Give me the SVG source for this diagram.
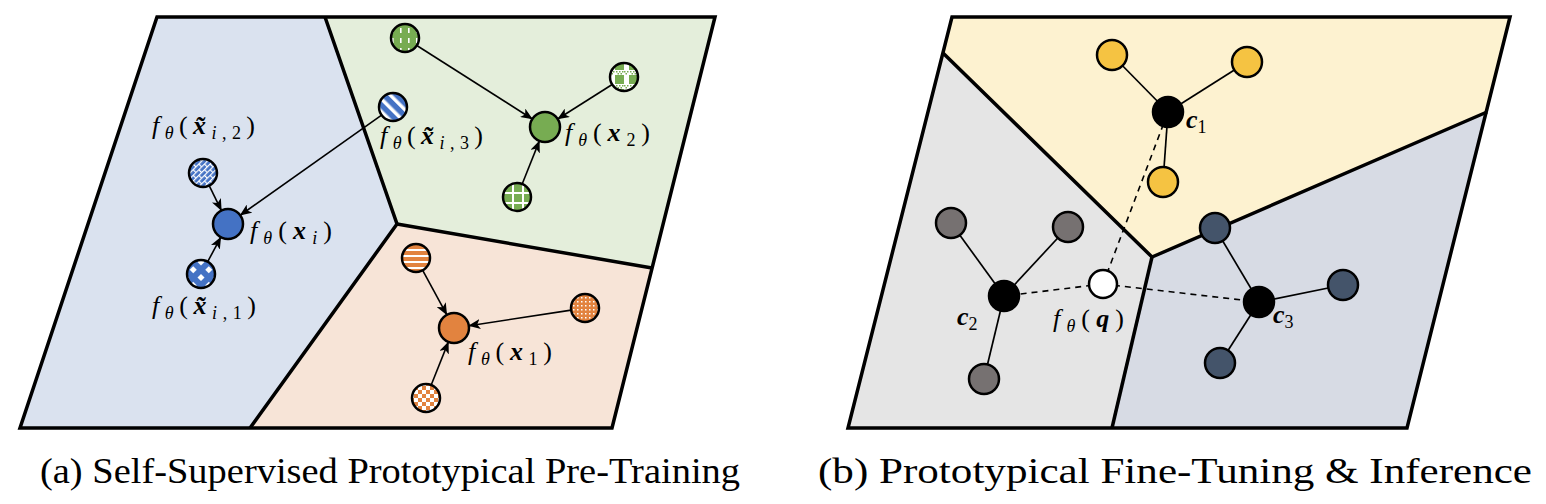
<svg xmlns="http://www.w3.org/2000/svg" width="1546" height="504" viewBox="0 0 1546 504">
<defs>
<style>
.bd{fill:none;stroke:#000;stroke-width:3.5;stroke-linejoin:miter}
.nd{stroke:#000;stroke-width:2.5}
.ar{fill:none;stroke:#000;stroke-width:1.6;marker-end:url(#ah)}
.ln{stroke:#000;stroke-width:1.7}
.ds{stroke:#000;stroke-width:1.6;stroke-dasharray:6 5}
.m{font-family:"Liberation Serif","Times New Roman",serif;font-size:26px;fill:#000}
.it{font-style:italic}
.bi{font-style:italic;font-weight:bold}
.sb{font-size:18px}
.cap{font-family:"Liberation Serif","Times New Roman",serif;font-size:36px;fill:#000}
</style>
<marker id="ah" viewBox="0 0 12 10" refX="11" refY="5" markerWidth="12" markerHeight="10" markerUnits="userSpaceOnUse" orient="auto">
<path d="M0,0 L12,5 L0,10 L3,5 Z" fill="#000"/>
</marker>
<pattern id="pStripe" width="9" height="9" patternUnits="userSpaceOnUse" patternTransform="rotate(-45)">
<rect width="9" height="9" fill="#4472c4"/><rect x="0" width="3.5" height="9" fill="#fff"/>
</pattern>
<pattern id="pBrick" width="8" height="8" patternUnits="userSpaceOnUse" patternTransform="rotate(-45)">
<rect width="8" height="8" fill="#4472c4"/><rect y="0" width="8" height="1.2" fill="#fff"/><rect y="4" width="8" height="1.2" fill="#fff"/><rect x="0" y="0" width="1.2" height="4" fill="#fff"/><rect x="4" y="4" width="1.2" height="4" fill="#fff"/>
</pattern>
<pattern id="pDiamond" width="11" height="11" patternUnits="userSpaceOnUse" patternTransform="translate(201,274) rotate(45)">
<rect width="11" height="11" fill="#4472c4"/><rect x="0" y="0" width="5" height="5" fill="#fff"/>
</pattern>
<pattern id="pVdash" width="8" height="10" patternUnits="userSpaceOnUse" patternTransform="translate(405,38)">
<rect width="8" height="10" fill="#77ac52"/><rect x="3" y="0" width="1.6" height="5" fill="#fff"/>
</pattern>
<pattern id="pPlaid" width="14" height="14" patternUnits="userSpaceOnUse" patternTransform="translate(624,77)">
<rect width="14" height="14" fill="#77ac52"/><rect x="0" y="0" width="5" height="14" fill="#fff"/><rect x="0" y="7" width="14" height="5" fill="#fff"/>
<rect x="0" y="8" width="1.5" height="1.5" fill="#77ac52"/><rect x="3" y="8" width="1.5" height="1.5" fill="#77ac52"/><rect x="1.5" y="10" width="1.5" height="1.5" fill="#77ac52"/>
<rect x="6" y="8" width="1.5" height="1.5" fill="#77ac52"/><rect x="9" y="8" width="1.5" height="1.5" fill="#77ac52"/><rect x="12" y="8" width="1.5" height="1.5" fill="#77ac52"/>
<rect x="7.5" y="10" width="1.5" height="1.5" fill="#77ac52"/><rect x="10.5" y="10" width="1.5" height="1.5" fill="#77ac52"/>
</pattern>
<pattern id="pGrid" width="10" height="10" patternUnits="userSpaceOnUse" patternTransform="translate(512,192)">
<rect width="10" height="10" fill="#77ac52"/><rect x="0" width="2" height="10" fill="#fff"/><rect y="0" width="10" height="2" fill="#fff"/>
</pattern>
<pattern id="pHstripe" width="6" height="6" patternUnits="userSpaceOnUse" patternTransform="translate(416,255)">
<rect width="6" height="6" fill="#e2833f"/><rect y="0" width="6" height="2" fill="#fff"/>
</pattern>
<pattern id="pDots" width="4" height="4" patternUnits="userSpaceOnUse">
<rect width="4" height="4" fill="#e2833f"/><rect x="1" y="1" width="1.5" height="1.5" fill="#fff"/>
</pattern>
<pattern id="pCheck" width="8" height="8" patternUnits="userSpaceOnUse" patternTransform="translate(422,394)">
<rect width="8" height="8" fill="#fff"/><rect x="0" y="0" width="4" height="4" fill="#e2833f"/><rect x="4" y="4" width="4" height="4" fill="#e2833f"/>
</pattern>
</defs>
<rect width="1546" height="504" fill="#fff"/>

<g id="panel-a-regions">
<polygon points="157,17 325,17 397,224 250,428 20,428" fill="#dae2ef"/>
<polygon points="325,17 715,17 652,268 397,224" fill="#e4eedb"/>
<polygon points="397,224 652,268 612,428 250,428" fill="#f7e4d7"/>
<polygon class="bd" points="157,17 715,17 612,428 20,428"/>
<polyline class="bd" points="325,17 397,224 250,428"/>
<line class="bd" x1="397" y1="224" x2="652" y2="268"/>
</g>

<g id="panel-b-regions">
<polygon points="952,17 1510,17 1487,112 1152,257 943,53" fill="#fdf2d0"/>
<polygon points="943,53 1152,257 1112,428 848,428" fill="#e5e5e5"/>
<polygon points="1152,257 1487,112 1407,428 1112,428" fill="#d7dbe4"/>
<polygon class="bd" points="952,17 1510,17 1407,428 848,428"/>
<polyline class="bd" points="943,53 1152,257 1487,112"/>
<line class="bd" x1="1152" y1="257" x2="1112" y2="428"/>
</g>

<g id="connectors">
<line class="ar" x1="416.8" y1="45.5" x2="531.9" y2="118.7"/>
<line class="ar" x1="612.2" y1="84.5" x2="558.1" y2="118.7"/>
<line class="ar" x1="522.2" y1="184" x2="539.2" y2="141.4"/>
<line class="ar" x1="381.6" y1="115.1" x2="240.6" y2="215"/>
<line class="ar" x1="209.2" y1="185.6" x2="221.2" y2="210.1"/>
<line class="ar" x1="207.7" y1="261.7" x2="220.6" y2="237.6"/>
<line class="ar" x1="422.7" y1="270.3" x2="446.6" y2="314.4"/>
<line class="ar" x1="571.2" y1="310.1" x2="469.3" y2="325.7"/>
<line class="ar" x1="431.2" y1="385" x2="448.2" y2="342.4"/>
<line class="ln" x1="1112" y1="55" x2="1168" y2="112"/>
<line class="ln" x1="1247" y1="62" x2="1168" y2="112"/>
<line class="ln" x1="1163" y1="182" x2="1168" y2="112"/>
<line class="ln" x1="951" y1="223" x2="1004" y2="296"/>
<line class="ln" x1="1068" y1="227" x2="1004" y2="296"/>
<line class="ln" x1="984" y1="379" x2="1004" y2="296"/>
<line class="ln" x1="1215" y1="228" x2="1259" y2="302"/>
<line class="ln" x1="1343" y1="285" x2="1259" y2="302"/>
<line class="ln" x1="1220" y1="363" x2="1259" y2="302"/>
<line class="ds" x1="1103" y1="284" x2="1168" y2="112"/>
<line class="ds" x1="1103" y1="284" x2="1004" y2="296"/>
<line class="ds" x1="1103" y1="284" x2="1259" y2="302"/>
</g>

<g id="node-xi3"><circle class="nd" cx="393" cy="107" r="14" fill="url(#pStripe)"/></g>
<g id="node-xi2"><circle class="nd" cx="203" cy="173" r="14" fill="url(#pBrick)"/></g>
<g id="node-xi"><circle class="nd" cx="228" cy="224" r="15" fill="#4472c4"/></g>
<g id="node-xi1"><circle class="nd" cx="201" cy="274" r="14" fill="url(#pDiamond)"/></g>
<g id="node-g1"><circle class="nd" cx="405" cy="38" r="14" fill="url(#pVdash)"/></g>
<g id="node-g2"><circle class="nd" cx="624" cy="77" r="14" fill="url(#pPlaid)"/></g>
<g id="node-g3"><circle class="nd" cx="517" cy="197" r="14" fill="url(#pGrid)"/></g>
<g id="node-x2"><circle class="nd" cx="545" cy="127" r="15" fill="#77ac52"/></g>
<g id="node-o1"><circle class="nd" cx="416" cy="258" r="14" fill="url(#pHstripe)"/></g>
<g id="node-o2"><circle class="nd" cx="585" cy="308" r="14" fill="url(#pDots)"/></g>
<g id="node-o3"><circle class="nd" cx="426" cy="398" r="14" fill="url(#pCheck)"/></g>
<g id="node-x1"><circle class="nd" cx="454" cy="328" r="15" fill="#e2833f"/></g>

<g id="node-y1"><circle class="nd" cx="1112" cy="55" r="15" fill="#f5c342"/></g>
<g id="node-y2"><circle class="nd" cx="1247" cy="62" r="15" fill="#f5c342"/></g>
<g id="node-y3"><circle class="nd" cx="1163" cy="182" r="15" fill="#f5c342"/></g>
<g id="node-c1"><circle class="nd" cx="1168" cy="112" r="15" fill="#000"/></g>
<g id="node-g4"><circle class="nd" cx="951" cy="223" r="15" fill="#767171"/></g>
<g id="node-g5"><circle class="nd" cx="1068" cy="227" r="15" fill="#767171"/></g>
<g id="node-g6"><circle class="nd" cx="984" cy="379" r="15" fill="#767171"/></g>
<g id="node-c2"><circle class="nd" cx="1004" cy="296" r="15" fill="#000"/></g>
<g id="node-s1"><circle class="nd" cx="1215" cy="228" r="15" fill="#44546a"/></g>
<g id="node-s2"><circle class="nd" cx="1343" cy="285" r="15" fill="#44546a"/></g>
<g id="node-s3"><circle class="nd" cx="1220" cy="363" r="15" fill="#44546a"/></g>
<g id="node-c3"><circle class="nd" cx="1259" cy="302" r="15" fill="#000"/></g>
<g id="node-q"><circle class="nd" cx="1103" cy="284" r="14" fill="#fff"/></g>

<g id="labels">
<text class="m" x="152" y="134" textLength="103" lengthAdjust="spacing"><tspan class="it">f</tspan><tspan class="it sb" dy="5">θ</tspan><tspan dy="-5">(</tspan><tspan class="bi">x&#x303;</tspan><tspan class="it sb" dy="5">i</tspan><tspan class="sb">,2</tspan><tspan dy="-5">)</tspan></text>
<text class="m" x="380" y="144" textLength="103" lengthAdjust="spacing"><tspan class="it">f</tspan><tspan class="it sb" dy="5">θ</tspan><tspan dy="-5">(</tspan><tspan class="bi">x&#x303;</tspan><tspan class="it sb" dy="5">i</tspan><tspan class="sb">,3</tspan><tspan dy="-5">)</tspan></text>
<text class="m" x="250" y="239" textLength="82" lengthAdjust="spacing"><tspan class="it">f</tspan><tspan class="it sb" dy="5">θ</tspan><tspan dy="-5">(</tspan><tspan class="bi">x</tspan><tspan class="it sb" dy="5">i</tspan><tspan dy="-5">)</tspan></text>
<text class="m" x="152" y="314" textLength="104" lengthAdjust="spacing"><tspan class="it">f</tspan><tspan class="it sb" dy="5">θ</tspan><tspan dy="-5">(</tspan><tspan class="bi">x&#x303;</tspan><tspan class="it sb" dy="5">i</tspan><tspan class="sb">,1</tspan><tspan dy="-5">)</tspan></text>
<text class="m" x="468" y="360" textLength="84" lengthAdjust="spacing"><tspan class="it">f</tspan><tspan class="it sb" dy="5">θ</tspan><tspan dy="-5">(</tspan><tspan class="bi">x</tspan><tspan class="sb" dy="5">1</tspan><tspan dy="-5">)</tspan></text>
<text class="m" x="565" y="141" textLength="85" lengthAdjust="spacing"><tspan class="it">f</tspan><tspan class="it sb" dy="5">θ</tspan><tspan dy="-5">(</tspan><tspan class="bi">x</tspan><tspan class="sb" dy="5">2</tspan><tspan dy="-5">)</tspan></text>
<text class="m" x="1186" y="128"><tspan class="bi">c</tspan><tspan class="sb" dy="5">1</tspan></text>
<text class="m" x="957" y="325"><tspan class="bi">c</tspan><tspan class="sb" dy="5">2</tspan></text>
<text class="m" x="1273" y="323"><tspan class="bi">c</tspan><tspan class="sb" dy="5">3</tspan></text>
<text class="m" x="1053" y="327" textLength="71" lengthAdjust="spacing"><tspan class="it">f</tspan><tspan class="it sb" dy="5">θ</tspan><tspan dy="-5">(</tspan><tspan class="bi">q</tspan><tspan>)</tspan></text>
<text class="cap" x="40" y="483" textLength="700" lengthAdjust="spacingAndGlyphs">(a) Self-Supervised Prototypical Pre-Training</text>
<text class="cap" x="818" y="483" textLength="714" lengthAdjust="spacingAndGlyphs">(b) Prototypical Fine-Tuning &amp; Inference</text>
</g>
</svg>
